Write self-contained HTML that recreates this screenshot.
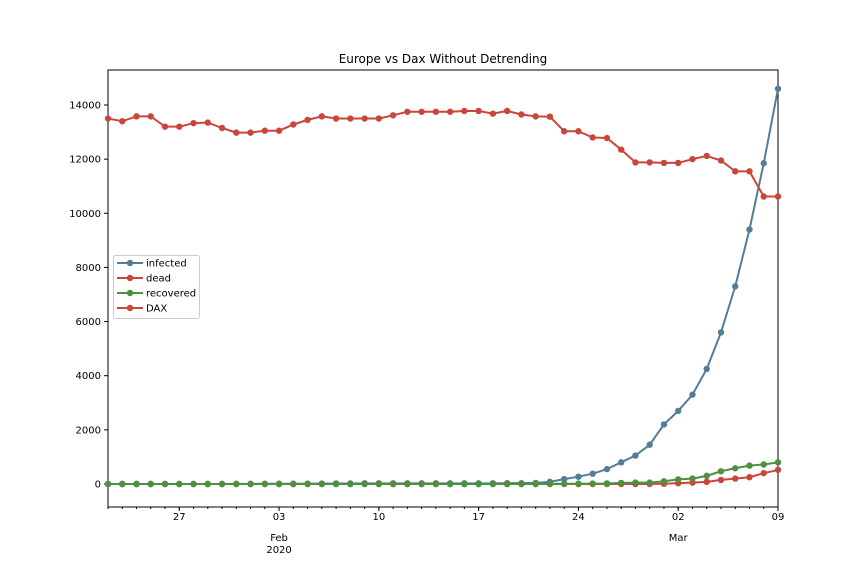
<!DOCTYPE html>
<html><head><meta charset="utf-8"><style>
body{margin:0;background:#fff;}
svg{display:block;font-family:"DejaVu Sans","Liberation Sans",sans-serif;}
</style></head><body>
<svg id="chart" width="864" height="576" viewBox="0 0 864 576">
<rect x="0" y="0" width="864" height="576" fill="#fff"/>
<text x="443" y="63" text-anchor="middle" font-size="12" fill="#000">Europe vs Dax Without Detrending</text>
<g id="plot"></g>
</svg>
<script>
const days = 48; // Jan 22 .. Mar 9 2020
const yTicks = [0,2000,4000,6000,8000,10000,12000,14000];
const xTickDays = [5,12,19,26,33,40,47];
const xTickLabels = ["27","03","10","17","24","02","09"];
const dax = [13500,13400,13580,13580,13200,13200,13330,13350,13150,12980,
12980,13050,13050,13280,13450,13580,13500,13500,13500,13500,
13620,13750,13750,13750,13750,13780,13780,13680,13780,13650,
13580,13570,13030,13030,12800,12780,12350,11880,11880,11860,
11860,12000,12120,11950,11550,11550,10620,10620];
const infected = [0,0,0,0,0,0,0,0,0,5,
5,10,10,10,12,15,20,20,25,25,
25,25,25,25,25,25,25,25,30,30,
40,80,180,270,380,550,800,1050,1450,2200,
2700,3300,4250,5600,7300,9400,11850,14600];
const recovered = [0,0,0,0,0,0,0,0,0,0,
0,0,0,0,0,0,0,0,0,0,
0,0,0,0,0,0,0,0,0,0,
0,5,10,10,15,20,40,50,50,100,
170,200,300,470,580,680,720,800];
const dead = [0,0,0,0,0,0,0,0,0,0,
0,0,0,0,0,0,0,0,0,0,
0,0,0,0,0,0,0,0,0,0,
0,0,0,0,0,0,0,0,0,10,
30,50,80,150,200,250,400,520];

const L=108,R=778,T=70,B=507;
const yMin=-850,yMax=15293;
const xs=d=>L+d*(R-L)/(days-1);
const ys=v=>B-(v-yMin)*(B-T)/(yMax-yMin);
const NS="http://www.w3.org/2000/svg";
const plot=document.getElementById('plot');
function mk(tag,attrs,parent){const e=document.createElementNS(NS,tag);for(const k in attrs)e.setAttribute(k,attrs[k]);(parent||plot).appendChild(e);return e;}

const frame=mk('rect',{x:L,y:T,width:R-L,height:B-T,fill:'none',stroke:'#000','stroke-width':1});



yTicks.forEach(v=>{
  const y=ys(v);
  const t=mk('line',{x1:L-4,x2:L,y1:y,y2:y,stroke:'#000'});
  
  
  const lb=mk('text',{x:L-7,y:y+3.5,'text-anchor':'end','font-size':'10',fill:'#000'});
  lb.textContent=v;
  
  
});
for(let d=0;d<days;d++){
  const x=xs(d);
  const t=mk('line',{x1:x,x2:x,y1:B,y2:B+2,stroke:'#000'});
  
  
}
xTickDays.forEach((d,i)=>{
  const x=xs(d);
  const t=mk('line',{x1:x,x2:x,y1:B,y2:B+4,stroke:'#000'});
  
  
  const lb=mk('text',{x:x,y:B+13,'text-anchor':'middle','font-size':'10',fill:'#000'});
  lb.textContent=xTickLabels[i];
  
  
});
[[12,"Feb",true],[40,"Mar",false]].forEach(([d,m,yr])=>{
  const lb=mk('text',{x:xs(d),y:B+34,'text-anchor':'middle','font-size':'10',fill:'#000'});
  lb.textContent=m;
  
  
  if(yr){const l2=mk('text',{x:xs(d),y:B+46,'text-anchor':'middle','font-size':'10',fill:'#000'});
  l2.textContent="2020";
  
  }
});

const series=[
 ['infected',infected,'#557d98'],
 ['dead',dead,'#c9473a'],
 ['recovered',recovered,'#4c9140'],
 ['DAX',dax,'#c9473a']];
series.forEach(([name,vals,col])=>{
  const g=mk('g',{});
  
  
  const pts=vals.map((v,i)=>xs(i)+','+ys(v)).join(' ');
  mk('polyline',{points:pts,fill:'none',stroke:col,'stroke-width':2},g);
  vals.forEach((v,i)=>{
    const c=mk('circle',{cx:xs(i),cy:ys(v),r:3.2,fill:col},g);
    
    
  });
});

const lg=mk('g',{});


mk('rect',{x:113.5,y:255.5,width:86,height:63,fill:'#fff',stroke:'#ccc','stroke-width':1,rx:2},lg);
series.forEach(([name,vals,col],i)=>{
  const y=263+i*15;
  const e=mk('g',{},lg);
  
  
  mk('line',{x1:117,x2:143,y1:y,y2:y,stroke:col,'stroke-width':2},e);
  mk('circle',{cx:130,cy:y,r:3.2,fill:col},e);
  const t=mk('text',{x:146,y:y+3.5,'font-size':'10',fill:'#000'},e);
  t.textContent=name;
});
</script>
</body></html>
